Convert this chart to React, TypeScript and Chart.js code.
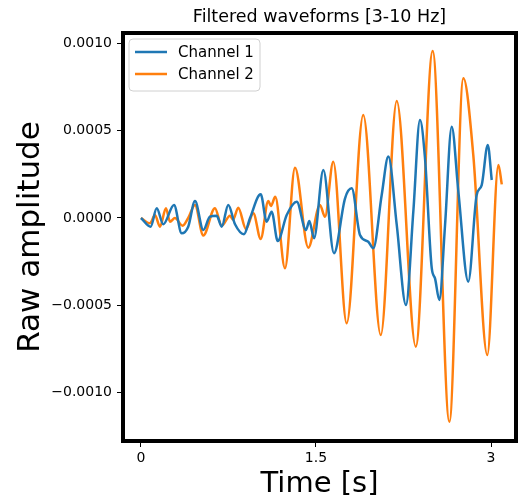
import React, { useEffect, useRef } from "react";
import { Chart, registerables } from "chart.js";

Chart.register(...registerables);

// Channel 1 (time in s, amplitude)
const ch1Time = [
  0, 0.083, 0.135, 0.191, 0.283, 0.349, 0.405, 0.463, 0.534, 0.591, 0.649, 0.692, 0.748, 0.806, 0.883, 0.934,
  1.026, 1.077, 1.12, 1.172, 1.249, 1.335, 1.414, 1.443, 1.483, 1.563, 1.654, 1.749, 1.806, 1.877, 1.948, 1.991,
  2.063, 2.12, 2.192, 2.271, 2.334, 2.391, 2.434, 2.492, 2.52, 2.557, 2.606, 2.663, 2.72, 2.805, 2.877, 2.92,
  2.972, 3.006,
];
const ch1Amp = [
  0, -0.00005, 0.000056, -0.000036, 0.000075, -0.000088, -0.00005, 0.000097, -0.000069, 0.0000075, 0.000013,
  -0.00005, 0.000075, -0.000036, -0.000093, -0.000002, 0.000136, -0.000021, 0.000036, -0.000132, 0.000017,
  0.000093, -0.000069, -0.000017, -0.000116, 0.000275, -0.000202, 0.000113, 0.00017, -0.000097, -0.000136,
  -0.000174, 0.000132, 0.000352, -0.00004, -0.000499, 0.000036, 0.000562, 0.000344, -0.000288, -0.000346,
  -0.00047, -0.00004, 0.000524, 0.000151, -0.000365, 0.000132, 0.000189, 0.000419, 0.000218,
];

// Channel 2 (time in s, amplitude)
const ch2Time = [
  0, 0.077, 0.12, 0.163, 0.214, 0.249, 0.291, 0.357, 0.405, 0.463, 0.534, 0.634, 0.692, 0.763, 0.789, 0.834,
  0.9, 0.963, 1.026, 1.091, 1.114, 1.151, 1.234, 1.32, 1.434, 1.534, 1.577, 1.648, 1.763, 1.905, 2.055, 2.192,
  2.355, 2.5, 2.643, 2.763, 2.848, 2.968, 3.063, 3.092,
];
const ch2Amp = [
  0, -0.00003, 0.000017, -0.00005, 0.000056, -0.000021, 0, -0.000044, 0, 0.000075, -0.000101, 0.000056,
  -0.000044, 0.000013, -0.00001, 0.000059, -0.000063, 0.000027, -0.00012, 0.000097, 0.000069, 0.000122,
  -0.000288, 0.000288, -0.00017, 0.000075, 0.000007, 0.000323, -0.000604, 0.000591, -0.000671, 0.000671,
  -0.000738, 0.000958, -0.001168, 0.000801, 0.000361, -0.000786, 0.000304, 0.000193,
];

const seriesLabels = ["Channel 1", "Channel 2"];
const seriesColors = ["#1f77b4", "#ff7f0e"];
const xTicks = [0, 1.5, 3];
const xTickLabels = ["0", "1.5", "3"];
const yTicks = [-0.001, -0.0005, 0, 0.0005, 0.001];
const yTickLabels = ["\u22120.0010", "\u22120.0005", "0.0000", "0.0005", "0.0010"];
const titleText = "Filtered waveforms [3-10 Hz]";
const xTitle = "Time [s]";
const yTitle = "Raw amplitude";

const FONT = "'DejaVu Sans', sans-serif";

const framePlugin = {
  id: "frameTitleLegend",
  afterDraw(chart: any) {
    const { ctx, chartArea } = chart;
    const { left, top, right, bottom } = chartArea;
    ctx.save();
    // frame
    ctx.strokeStyle = "#000";
    ctx.lineWidth = 4;
    ctx.strokeRect(left, top, right - left, bottom - top);
    // title
    ctx.fillStyle = "#000";
    ctx.font = `17.5px ${FONT}`;
    ctx.textAlign = "center";
    ctx.textBaseline = "middle";
    ctx.fillText(titleText, (left + right) / 2, 17);
    // legend
    const bx = left + 6;
    const by = top + 6;
    const bw = 131;
    const bh = 52;
    const r = 4;
    ctx.beginPath();
    ctx.moveTo(bx + r, by);
    ctx.lineTo(bx + bw - r, by);
    ctx.arcTo(bx + bw, by, bx + bw, by + r, r);
    ctx.lineTo(bx + bw, by + bh - r);
    ctx.arcTo(bx + bw, by + bh, bx + bw - r, by + bh, r);
    ctx.lineTo(bx + r, by + bh);
    ctx.arcTo(bx, by + bh, bx, by + bh - r, r);
    ctx.lineTo(bx, by + r);
    ctx.arcTo(bx, by, bx + r, by, r);
    ctx.closePath();
    ctx.fillStyle = "rgba(255,255,255,0.8)";
    ctx.fill();
    ctx.strokeStyle = "#d0d0d0";
    ctx.lineWidth = 1;
    ctx.stroke();
    chart.data.datasets.forEach((ds: any, i: number) => {
      const y = by + 13 + i * 22;
      ctx.strokeStyle = ds.borderColor;
      ctx.lineWidth = 2.5;
      ctx.beginPath();
      ctx.moveTo(bx + 6, y);
      ctx.lineTo(bx + 38, y);
      ctx.stroke();
      ctx.fillStyle = "#000";
      ctx.font = `15px ${FONT}`;
      ctx.textAlign = "left";
      ctx.textBaseline = "middle";
      ctx.fillText(ds.label, bx + 49, y + 1);
    });
    ctx.restore();
  },
};

export default function App() {
  const ref = useRef<HTMLCanvasElement | null>(null);
  useEffect(() => {
    if (!ref.current) return;
    const chart = new Chart(ref.current, {
      type: "line",
      data: {
        datasets: [
          {
            label: seriesLabels[0],
            data: ch1Time.map((t, i) => ({ x: t, y: ch1Amp[i] })),
            borderColor: seriesColors[0],
            backgroundColor: seriesColors[0],
            borderWidth: 2.5,
            pointRadius: 0,
            cubicInterpolationMode: "monotone",
          },
          {
            label: seriesLabels[1],
            data: ch2Time.map((t, i) => ({ x: t, y: ch2Amp[i] })),
            borderColor: seriesColors[1],
            backgroundColor: seriesColors[1],
            borderWidth: 2.5,
            pointRadius: 0,
            cubicInterpolationMode: "monotone",
          },
        ],
      },
      options: {
        animation: false,
        responsive: false,
        devicePixelRatio: 1,
        layout: { padding: { top: 33, right: 2, left: 0, bottom: 0 } },
        plugins: {
          legend: { display: false },
          tooltip: { enabled: false },
          title: { display: false },
        },
        scales: {
          x: {
            type: "linear",
            min: -0.154,
            max: 3.214,
            afterFit: (s: any) => {
              s.height = 61;
            },
            afterBuildTicks: (s: any) => {
              s.ticks = xTicks.map((v) => ({ value: v }));
            },
            border: { display: false },
            grid: {
              display: true,
              drawOnChartArea: false,
              drawTicks: true,
              tickLength: 6,
              tickColor: "#000",
              tickWidth: 1,
            },
            ticks: {
              color: "#000",
              padding: 3,
              maxRotation: 0,
              font: { family: FONT, size: 14 },
              callback: (v: any) => {
                const i = xTicks.indexOf(Number(v));
                return i >= 0 ? xTickLabels[i] : "";
              },
            },
            title: {
              display: true,
              text: xTitle,
              color: "#000",
              font: { family: FONT, size: 29 },
              padding: { top: 0, bottom: 0 },
            },
          },
          y: {
            type: "linear",
            min: -0.001279,
            max: 0.001061,
            afterFit: (s: any) => {
              s.width = 123;
            },
            afterBuildTicks: (s: any) => {
              s.ticks = yTicks.map((v) => ({ value: v }));
            },
            border: { display: false },
            grid: {
              display: true,
              drawOnChartArea: false,
              drawTicks: true,
              tickLength: 6,
              tickColor: "#000",
              tickWidth: 1,
            },
            ticks: {
              color: "#000",
              padding: 5,
              font: { family: FONT, size: 14 },
              callback: (v: any) => {
                const i = yTicks.findIndex((t) => Math.abs(t - Number(v)) < 1e-9);
                return i >= 0 ? yTickLabels[i] : "";
              },
            },
            title: {
              display: true,
              text: yTitle,
              color: "#000",
              font: { family: FONT, size: 31 },
              padding: { top: 12, bottom: 0 },
            },
          },
        },
      },
      plugins: [framePlugin],
    } as any);
    return () => chart.destroy();
  }, []);
  return (
    <div style={{ position: "absolute", left: 0, top: 0, width: 518, height: 502, background: "#fff" }}>
      <canvas ref={ref} width={518} height={502} style={{ display: "block" }} />
    </div>
  );
}
